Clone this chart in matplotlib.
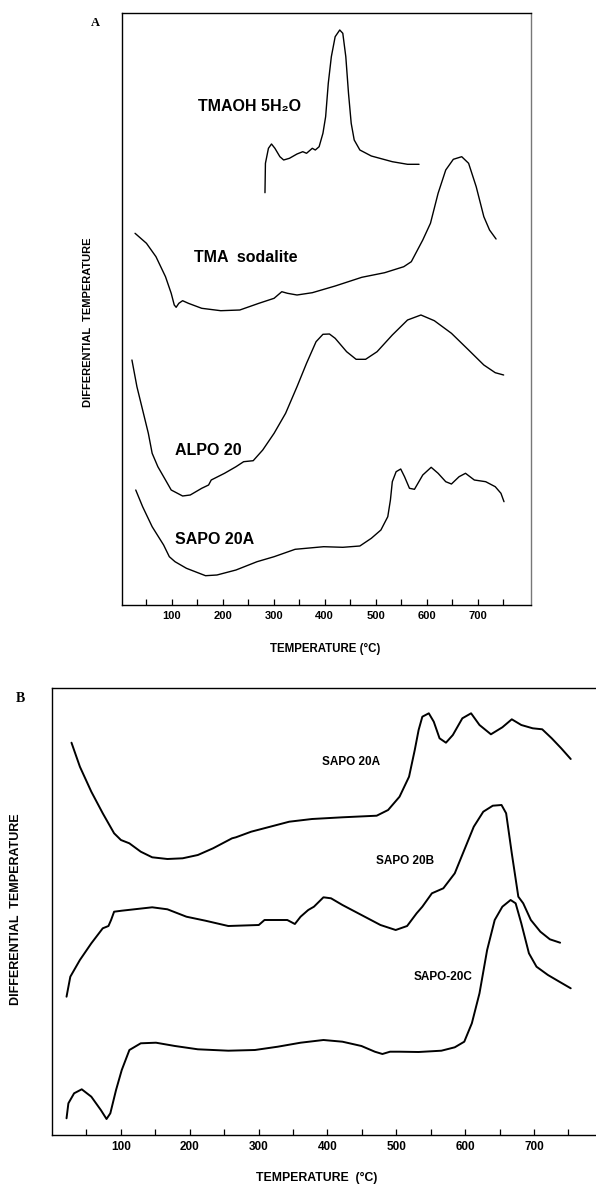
import matplotlib
matplotlib.use('Agg')
import matplotlib.pyplot as plt

plt.rcParams['font.family'] = ['Liberation Sans', 'DejaVu Sans']

# ---- panel A : DTA traces (temperature in C, signal in arbitrary units)
tmaoh_t = [282.7, 283.5, 283.6, 289.5, 295.5, 302.2, 312, 319.4, 330.7, 345.6, 356.9, 364.3,
           375.6, 381.5, 389, 396.5, 401.8, 407, 413, 420.5, 429.5, 435.5, 441.4, 446.7,
           452, 457.9, 469, 491.5, 532.7, 562.6, 585.2]
tmaoh_v = [412.3, 438.3, 441.7, 456.7, 461, 456.7, 448.3, 445, 446.7, 451, 453.3, 451.7,
           456.7, 455, 458.3, 471.7, 488.3, 521.7, 548.3, 568.3, 575, 571.7, 548.3, 511.7,
           481.7, 465, 455, 449, 443.3, 440.7, 440.7]

sodal_t = [27.6, 50, 68.7, 87.4, 98.6, 104.6, 108.3, 113.6, 121, 132.3, 158.5, 195.9, 233.3,
           270.8, 300.6, 315.7, 326.9, 345.6, 375.6, 420.5, 472.8, 517.7, 555.2, 570, 592.5,
           607.6, 622.6, 637.6, 652.5, 669, 682.5, 697.4, 712.4, 723.6, 736.4]
sodal_v = [371.7, 361.7, 348.3, 328.3, 311.7, 300, 297.7, 301.7, 304.3, 301.7, 296.7, 294.3, 295,
           301.7, 306.7, 313.3, 311.7, 310, 312.3, 319, 327.7, 332.3, 338.3, 343.3, 365,
           381.7, 411.7, 435, 445.7, 448.3, 441.7, 418.3, 388.3, 375, 366]

alpo_t = [21.5, 31.3, 42.5, 53.7, 61.2, 72.4, 87.4, 98.6, 121, 136, 158.5, 172, 177.2, 203.3,
          225.8, 240.8, 259.6, 278.3, 300.6, 323.2, 345.6, 364.3, 383, 396.5, 409.3, 420.5,
          443, 461.6, 480.3, 502.8, 532.7, 562.6, 588.9, 615.2, 648.8, 682.5, 712.4, 734.8, 751.3]
alpo_v = [245, 218.3, 195, 171.7, 151.7, 138.3, 125, 115, 109, 110, 116.7, 120, 125, 131.7,
          138.3, 143.3, 144.3, 155, 171.7, 191.7, 218.3, 241.7, 263.3, 270.7, 271, 266.7,
          253.3, 245.7, 245.7, 253.3, 270, 285, 290, 284.3, 271.7, 255, 240, 232.3, 230]

sapoA1_t = [29, 42.5, 61.2, 83.7, 94.9, 106.1, 128.5, 166, 188.4, 225.8, 267.1, 300.6, 341.9,
            398, 435.5, 469, 491.5, 510.3, 523.8, 529, 532.7, 540.2, 549.2, 556.7, 566.4, 576.2,
            592.5, 609, 622.6, 637.6, 648.8, 663.8, 676.4, 693.7, 716.1, 734.8, 746, 752]
sapoA1_v = [115, 98.3, 78.3, 60, 48.3, 43.3, 36.7, 29.3, 30, 35, 43.3, 48.3, 55.7,
            58.3, 57.7, 59, 66.7, 75, 88.3, 105, 123.3, 133.3, 136, 128.3, 116.7, 115.7,
            130, 137.7, 131.7, 123.3, 121, 128.3, 131.7, 125, 123.3, 118.3, 111.7, 103.3]

# ---- panel B
sapoA2_t = [28.3, 40.5, 57.1, 73.7, 90.2, 100.1, 112.3, 128.9, 145.5, 167.6, 189.7, 211.8, 233.9,
            261.5, 267.1, 289.2, 316.9, 344.5, 377.6, 421.8, 471.5, 488.1, 504.7, 518.5, 526.8,
            532.4, 537.8, 547.2, 554.4, 562.8, 572.1, 582.1, 595.9, 608.6, 620.8, 637.4, 654,
            667.7, 681.5, 698.1, 711.9, 725.7, 739.5, 753.3]
sapoA2_v = [392.3, 368.3, 343.3, 321.7, 301.7, 295, 291.7, 283.3, 277.7, 276, 276.7, 280, 286.7,
            296.7, 297.7, 303.3, 308.3, 313.3, 316, 317.7, 319.3, 325, 338.3, 358.3, 385,
            405, 418.3, 421.7, 413.3, 396.7, 392.3, 400, 416.7, 421.7, 410, 400.7, 407.7,
            415.7, 410, 406.7, 405.7, 396.7, 386.7, 376]

sapoB_t = [21.1, 26.6, 40.5, 57.1, 73.7, 82, 85.8, 90.2, 101.3, 145.5, 167.6, 195.2, 222.8, 256,
           300.3, 308.6, 341.7, 352.7, 361, 372.1, 380.4, 394.2, 405.2, 421.8, 449.4, 477, 499.1,
           515.7, 529.5, 537.8, 551.7, 568.3, 584.9, 598.7, 612.5, 626.3, 640.1, 652.8, 659.5,
           667.7, 677.2, 684.3, 695.4, 709.2, 723, 737.9]
sapoB_v = [138.3, 158.3, 175, 191.7, 206.7, 209, 215, 223.3, 224.3, 227.7, 225.7, 218.3, 214.3, 209,
           210, 215, 215, 211, 218.3, 225, 228.3, 237.7, 236.7, 230, 220, 210, 205,
           209, 221.7, 228.3, 241.7, 246.7, 261.7, 285, 308.3, 323.3, 329.3, 330, 321.7,
           281.7, 238.3, 231.7, 215, 203.3, 195.7, 192.3]

sapoC_t = [21.1, 23.8, 32.1, 43.2, 57.1, 70.9, 79.2, 84.7, 93, 101.3, 112.4, 128.9, 151, 178.6,
           211.8, 256, 294.7, 327.9, 361, 394.2, 421.8, 449.4, 468.8, 479.8, 490.9, 504.7, 532.4,
           565.5, 584.9, 598.7, 609.7, 620.8, 631.9, 642.9, 654, 666, 673.3, 681.5, 692.6,
           703.6, 720.2, 736.8, 753.3]
sapoC_v = [16.7, 31.7, 41.7, 45.7, 38.3, 25, 16, 21.7, 45, 65, 85, 91.7, 92.3, 89,
           85.7, 84.3, 85, 88.3, 92.3, 95, 93.3, 89, 83.3, 81, 83.3, 83.3, 83,
           84.3, 87.7, 93.3, 111.7, 141.7, 185, 215, 228.3, 235, 231.7, 211.7, 181.7,
           168.3, 160, 153.3, 146.7]

tick_pos = list(range(50, 800, 50))
tick_lab = [str(t) if t % 100 == 0 else '' for t in tick_pos]

W, H = 596, 1187
fig = plt.figure(figsize=(W / 100, H / 100), dpi=100)


def px_axes(left, top, right, bottom):
    return fig.add_axes([left / W, 1 - bottom / H, (right - left) / W, (bottom - top) / H])


def style(ax, fs):
    ax.set_yticks([])
    ax.set_xticks(tick_pos)
    ax.set_xticklabels(tick_lab, fontsize=fs, fontweight='bold')
    ax.tick_params(axis='x', direction='in', length=4, width=0.9, pad=4)
    for s in ax.spines.values():
        s.set_linewidth(1.0)


line_kw = dict(color='k', solid_joinstyle='round', solid_capstyle='round')

# panel A
axA = px_axes(122, 13, 531, 605)
axA.set_xlim(2, 805)
axA.set_ylim(0, 592)
style(axA, 8)
axA.spines['right'].set_color('#777777')
axA.plot(tmaoh_t, tmaoh_v, lw=1.0, **line_kw)
axA.plot(sodal_t, sodal_v, lw=1.0, **line_kw)
axA.plot(alpo_t, alpo_v, lw=1.0, **line_kw)
axA.plot(sapoA1_t, sapoA1_v, lw=1.0, **line_kw)
labA = dict(fontsize=11.5, fontweight='bold', va='center', ha='left')
axA.text(151, 498, 'TMAOH 5H\u2082O', **labA)
axA.text(143, 347, 'TMA  sodalite', **labA)
axA.text(106, 154, 'ALPO 20', **labA)
axA.text(106, 65, 'SAPO 20A', **labA)

# panel B
axB = px_axes(52, 688, 596, 1135)
axB.set_xlim(0, 790)
axB.set_ylim(0, 447)
style(axB, 8.5)
axB.spines['right'].set_visible(False)
axB.plot(sapoA2_t, sapoA2_v, lw=1.4, **line_kw)
axB.plot(sapoB_t, sapoB_v, lw=1.4, **line_kw)
axB.plot(sapoC_t, sapoC_v, lw=1.4, **line_kw)
labB = dict(fontsize=8.5, fontweight='bold', va='center', ha='left')
axB.text(392, 373, 'SAPO 20A', **labB)
axB.text(470, 274, 'SAPO 20B', **labB)
axB.text(525, 158, 'SAPO-20C', **labB)


# axis titles and panel letters
def ftext(x, y, s, **kw):
    fig.text(x / W, 1 - y / H, s, **kw)


ftext(325, 649, 'TEMPERATURE (\u00b0C)', fontsize=8.3, fontweight='bold', ha='center', va='center')
ftext(88, 322, 'DIFFERENTIAL  TEMPERATURE', fontsize=8, fontweight='bold', ha='center',
      va='center', rotation=90)
ftext(317, 1178, 'TEMPERATURE  (\u00b0C)', fontsize=8.8, fontweight='bold', ha='center', va='center')
ftext(16, 909, 'DIFFERENTIAL  TEMPERATURE', fontsize=9, fontweight='bold', ha='center',
      va='center', rotation=90)
ftext(95, 23, 'A', fontsize=9, fontweight='bold', family='Liberation Serif', ha='center', va='center')
ftext(20, 698, 'B', fontsize=10, fontweight='bold', family='Liberation Serif', ha='center', va='center')

fig.savefig('out.png', dpi=100, facecolor='white')
